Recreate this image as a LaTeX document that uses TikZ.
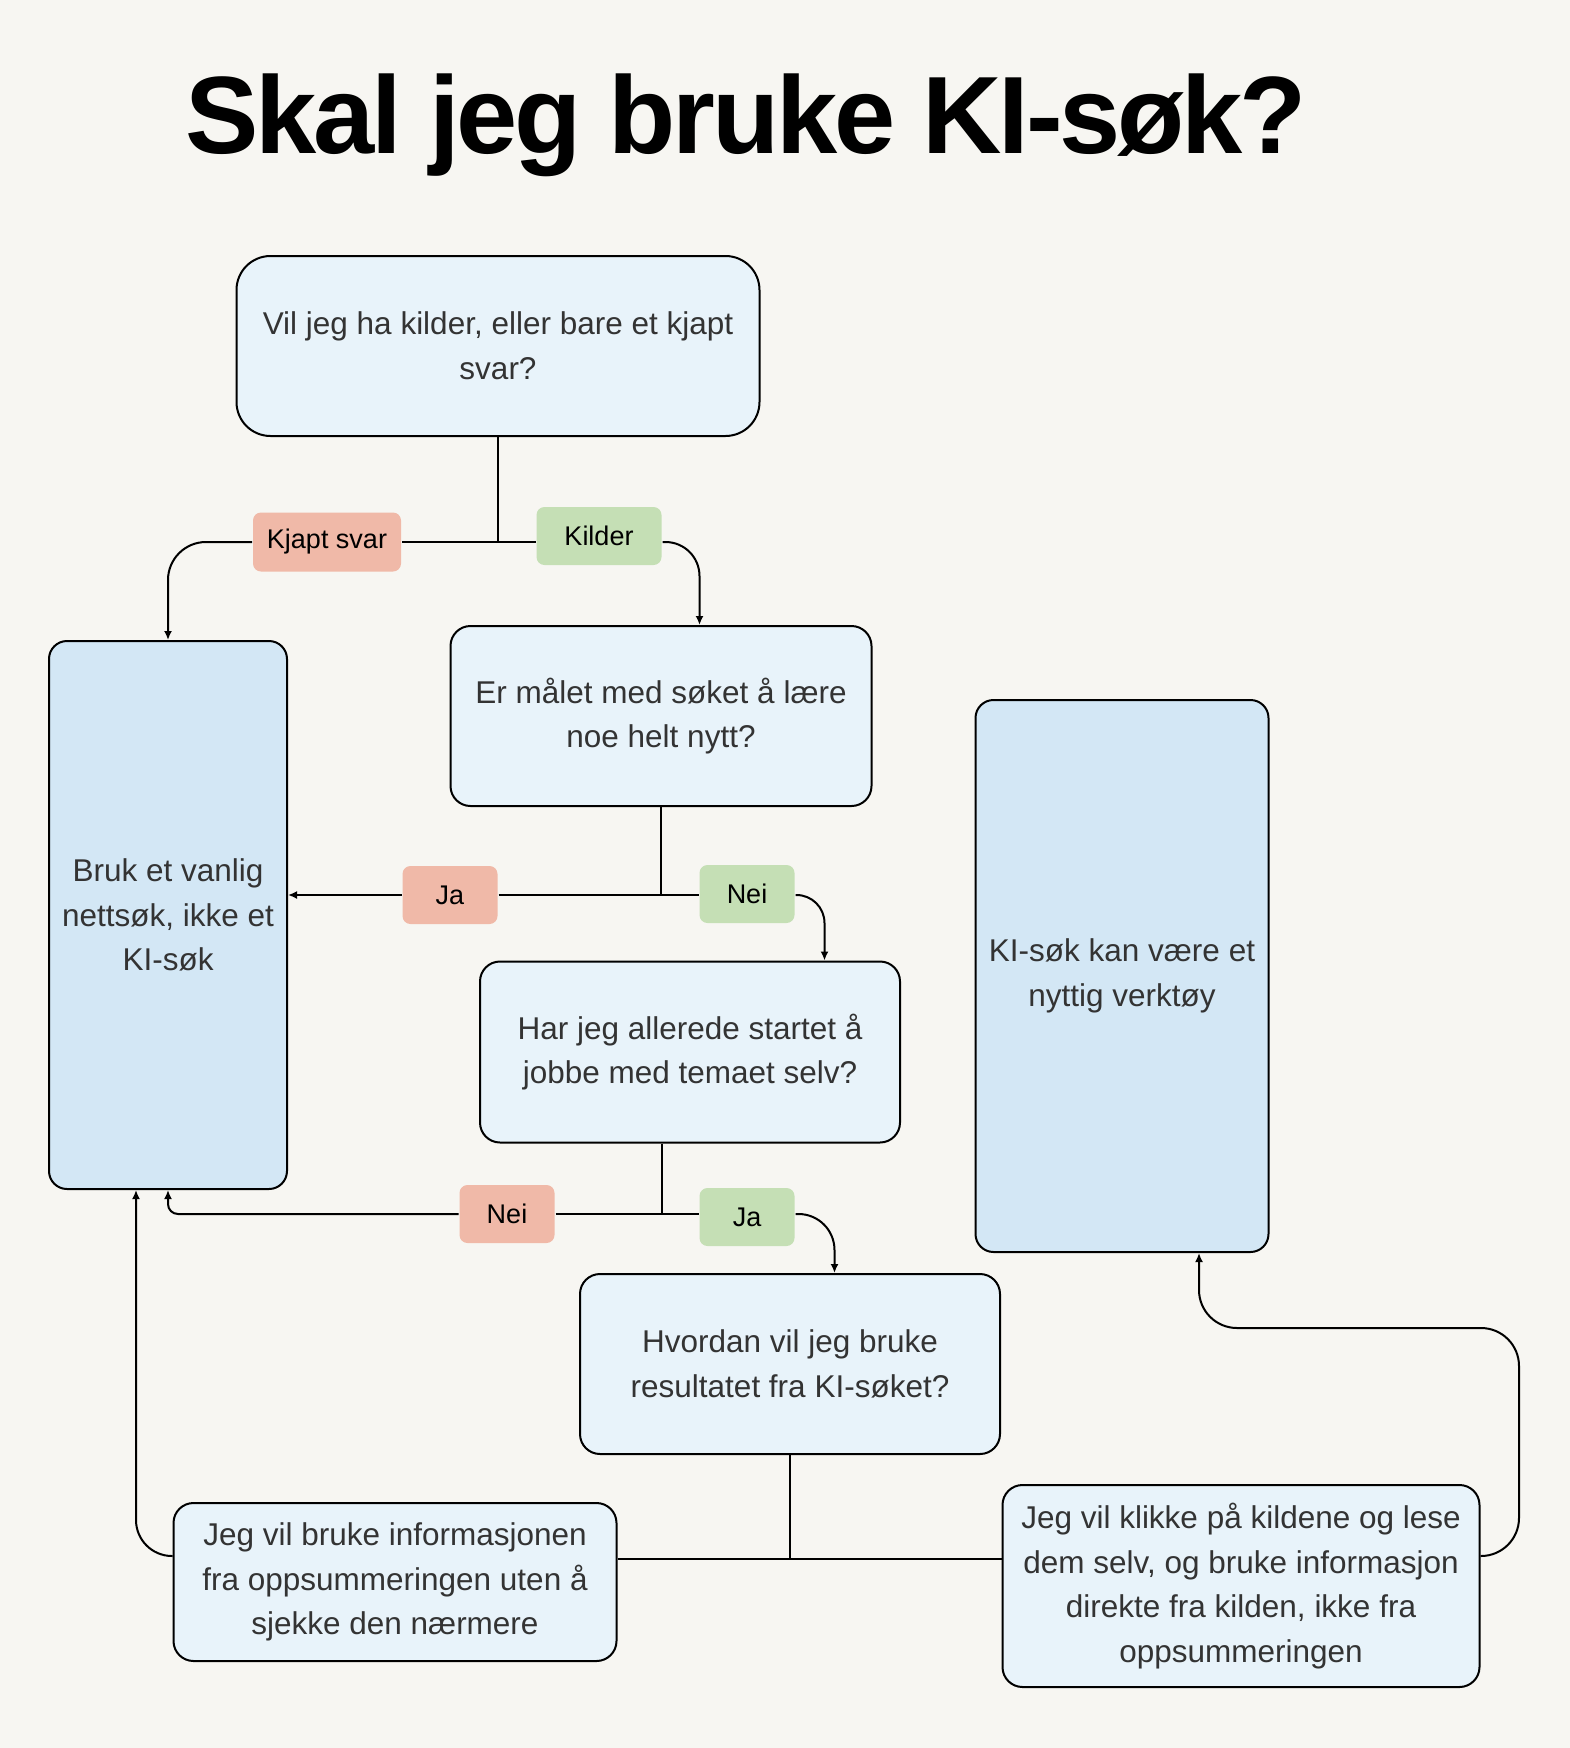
\documentclass[tikz,border=0pt]{standalone}
\usepackage{fontspec}
\setmainfont{Liberation Sans}
\usetikzlibrary{arrows.meta}
\definecolor{bg}{HTML}{F7F6F2}
\definecolor{boxlight}{HTML}{E8F3FA}
\definecolor{boxdark}{HTML}{D3E7F5}
\definecolor{redtagfill}{HTML}{F0B9A8}
\definecolor{greentagfill}{HTML}{C5DFB5}
\definecolor{boxtext}{HTML}{333333}
\begin{document}
\begin{tikzpicture}[x=1pt,y=-1pt,line width=2pt,
  box/.style={draw=black,fill=boxlight,rounded corners=20pt,align=center,text=boxtext,inner sep=0pt,
    font=\fontsize{31.5}{44.6}\selectfont},
  endbox/.style={box,fill=boxdark},
  tag/.style={rounded corners=8pt,inner sep=0pt,minimum width=95pt,minimum height=58pt,
    font=\fontsize{27}{32}\selectfont},
  redtag/.style={tag,fill=redtagfill},
  greentag/.style={tag,fill=greentagfill},
  arr/.style={-{Latex[length=9pt,width=8pt]},rounded corners=38pt}]
  \fill[bg] (0,0) rectangle (1570,1748);
  \useasboundingbox (0,0) rectangle (1570,1748);
  \node[anchor=base,font=\fontsize{110}{120}\selectfont\bfseries\addfontfeature{LetterSpace=-3}] (tittel) at (746,153) {Skal jeg bruke KI-søk?};
  % boxes
  \node[box,rounded corners=34pt,minimum width=523pt,minimum height=180pt] (q1) at (498,346) {Vil jeg ha kilder, eller bare et kjapt\\svar?};
  \node[endbox,rounded corners=18pt,minimum width=238pt,minimum height=548pt] (nettsok) at (168,915) {Bruk et vanlig\\nettsøk, ikke et\\KI-søk};
  \node[box,minimum width=421pt,minimum height=180pt] (q2) at (661,716) {Er målet med søket å lære\\noe helt nytt?};
  \node[box,minimum width=420pt,minimum height=181pt] (q3) at (690,1052) {Har jeg allerede startet å\\jobbe med temaet selv?};
  \node[box,minimum width=420pt,minimum height=180pt] (q4) at (790,1364) {Hvordan vil jeg bruke\\resultatet fra KI-søket?};
  \node[box,minimum width=443pt,minimum height=158pt] (a1) at (395,1582) {Jeg vil bruke informasjonen\\fra oppsummeringen uten å\\sjekke den nærmere};
  \node[box,minimum width=477pt,minimum height=202pt] (a2) at (1241,1586) {Jeg vil klikke på kildene og lese\\dem selv, og bruke informasjon\\direkte fra kilden, ikke fra\\oppsummeringen};
  \node[endbox,rounded corners=18pt,minimum width=293pt,minimum height=552pt] (kisok) at (1122,976) {KI-søk kan være et\\nyttig verktøy};
  % junctions
  \coordinate (j1) at (498,542);
  \coordinate (j2) at (661,895);
  \coordinate (j3) at (662,1214);
  \coordinate (j4) at (790,1559);
  \draw (q1.south) -- (j1);
  \draw (q2.south) -- (j2);
  \draw (q3.south -| j3) -- (j3);
  \draw (q4.south) -- (j4);
  % labels
  \node[redtag,minimum width=148pt,minimum height=59pt] (kjapt) at (327,542) {Kjapt svar};
  \node[greentag,minimum width=125pt] (kilder) at (599,536) {Kilder};
  \node[redtag] (ja1) at (450,895) {Ja};
  \node[greentag] (nei1) at (747,894) {Nei};
  \node[redtag] (nei2) at (507,1214) {Nei};
  \node[greentag] (ja2) at (747,1217) {Ja};
  % connectors
  \draw (kjapt.east) -- (kilder.west |- j1);
  \draw[arr] (kjapt.west) -| (nettsok.north);
  \draw[arr,rounded corners=34pt] (kilder.east |- j1) -| ([xshift=37pt]kilder.east |- q2.north);
  \draw (ja1.east) -- (nei1.west |- j2);
  \draw[arr] (ja1.west) -- (nettsok.east |- ja1.west);
  \draw[arr,rounded corners=28pt] (nei1.east |- j2) -| ([xshift=29pt]nei1.east |- q3.north);
  \draw (nei2.east) -- (ja2.west |- j3);
  \draw[arr,rounded corners=10pt] (nei2.west) -| (nettsok.south);
  \draw[arr,rounded corners=36pt] (ja2.east |- j3) -| ([xshift=39pt]ja2.east |- q4.north);
  \draw (a1.east |- j4) -- (a2.west |- j4);
  \draw[arr,rounded corners=36pt] ([yshift=26pt]a1.west) -| ([xshift=-32pt]nettsok.south);
  \draw[arr] ([yshift=30pt]a2.east) -| (1519,1328) -| ([xshift=77pt]kisok.south);
\end{tikzpicture}
\end{document}
